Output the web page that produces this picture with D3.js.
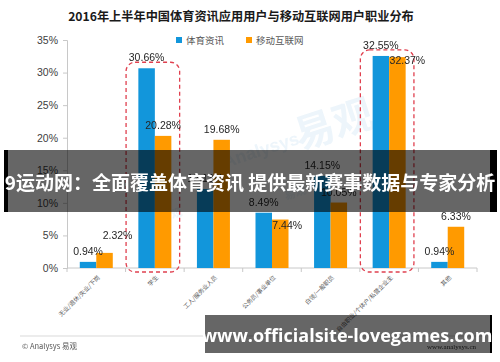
<!DOCTYPE html>
<html><head><meta charset="utf-8">
<script src="https://cdn.jsdelivr.net/npm/d3@7"></script>
<style>
html,body{margin:0;padding:0;background:#fff;}
svg{display:block;font-family:"Noto Sans CJK SC","Liberation Sans",sans-serif;}
</style></head>
<body>
<svg id="c" width="500" height="362"></svg>
<script>
const title = "2016年上半年中国体育资讯应用用户与移动互联网用户职业分布";
const categories = ["无业/退休/失业/下岗","学生","工人/服务业人员","公务员/事业单位","白领/一般职员","自由职业/个体户/私营企业主","其他"];
const seriesNames = ["体育资讯","移动互联网"];
const sportsNews = [0.94, 30.66, 12.13, 8.49, 14.15, 32.55, 0.94];
const mobileInternet = [2.32, 20.28, 19.68, 7.44, 10.05, 32.37, 6.33];
const yTicks = [0, 5, 10, 15, 20, 25, 30, 35];
const highlighted = ["学生", "自由职业/个体户/私营企业主"];
const bannerText = "9运动网：全面覆盖体育资讯 提供最新赛事数据与专家分析";
const bannerUrl = "www.officialsite-lovegames.com";

const colors = ["#1296db", "#ff9a00"];
const svg = d3.select("#c");
const L = 67, R = 477, T = 40, B = 268;

const x = d3.scaleBand().domain(categories).range([L, R]).paddingInner(0).paddingOuter(0);
const sub = d3.scaleBand().domain(seriesNames).range([0, 33]);
const y = d3.scaleLinear().domain([0, 35]).range([B, T]);

// watermark
const wm = svg.append("g").attr("fill", "#d6e8f5").attr("opacity", 0.45).attr("font-weight", "bold");
wm.append("text").attr("transform", "translate(300,150) rotate(-18)").attr("font-size", 40).text("易观");
wm.append("text").attr("transform", "translate(225,168) rotate(-18)").attr("font-size", 18).attr("font-family", "Liberation Sans").text("Analysys");
wm.append("text").attr("transform", "translate(162,222) rotate(-18)").attr("font-size", 11).text("易观");
wm.append("text").attr("transform", "translate(286,200) rotate(-18)").attr("font-size", 11).text("易观");

// title
svg.append("text").attr("x", 241).attr("y", 21).attr("text-anchor", "middle")
  .attr("font-size", 12.2).attr("font-weight", "bold").attr("fill", "#1a1a1a").text(title);

// legend
const leg = svg.append("g");
const legX = [176, 246];
seriesNames.forEach((s, i) => {
  leg.append("rect").attr("x", legX[i]).attr("y", 37).attr("width", 6).attr("height", 6).attr("fill", colors[i]);
  leg.append("text").attr("x", legX[i] + 10).attr("y", 44).attr("font-size", 9.5).attr("fill", "#595959").text(s);
});

// y axis
const yAxis = d3.axisLeft(y).tickValues(yTicks).tickSize(4).tickFormat(d => d + "%");
const gy = svg.append("g").attr("transform", `translate(${L},0)`).call(yAxis);
gy.select(".domain").attr("stroke", "#c8c8c8");
gy.selectAll(".tick line").attr("stroke", "#c8c8c8");
gy.selectAll(".tick text").attr("font-size", 10.5).attr("fill", "#404040").attr("x", -9)
  .attr("font-family", "Liberation Sans, sans-serif");

// x axis
const gx = svg.append("g").attr("transform", `translate(0,${B})`);
gx.append("line").attr("x1", L).attr("x2", R).attr("stroke", "#c8c8c8");
const bounds = d3.range(categories.length + 1).map(i => L + i * x.bandwidth());
gx.selectAll("line.tk").data(bounds).join("line").attr("class", "tk")
  .attr("x1", d => d).attr("x2", d => d).attr("y1", 0).attr("y2", 4).attr("stroke", "#c8c8c8");
gx.selectAll("text.cat").data(categories).join("text").attr("class", "cat")
  .attr("transform", d => `translate(${x(d) + x.bandwidth() / 2 + 4},${10}) rotate(-45)`)
  .attr("text-anchor", "end").attr("font-size", 6).attr("fill", "#595959").text(d => d);

// bars
const rows = categories.map((c, i) => ({ c, vals: [sportsNews[i], mobileInternet[i]] }));
const groups = svg.append("g").selectAll("g").data(rows).join("g")
  .attr("transform", d => `translate(${x(d.c) + (x.bandwidth() - 33) / 2},0)`);
groups.selectAll("rect").data(d => d.vals.map((v, k) => ({ v, k }))).join("rect")
  .attr("x", d => sub(seriesNames[d.k])).attr("width", sub.bandwidth())
  .attr("y", d => y(d.v)).attr("height", d => B - y(d.v)).attr("fill", d => colors[d.k]);

// dashed highlight boxes
highlighted.forEach(c => {
  const i = categories.indexOf(c);
  const top = Math.max(sportsNews[i], mobileInternet[i]);
  const y0 = y(top) - 6;
  svg.append("rect").attr("x", x(c) + 0.5).attr("width", x.bandwidth() - 5)
    .attr("y", y0).attr("height", B + 4 - y0)
    .attr("rx", 9).attr("fill", "none").attr("stroke", "#e0404f").attr("stroke-width", 1.3)
    .attr("stroke-dasharray", "4,3");
});

// label adjustments (layout only)
const labelShift = { "0-1": [13, -7], "3-1": [7, 16], "5-1": [10, 14] };
const lbl = svg.append("g").attr("font-size", 10.5).attr("fill", "#262626").attr("text-anchor", "middle")
  .attr("font-family", "Liberation Sans, sans-serif");
rows.forEach((r, i) => {
  r.vals.forEach((v, k) => {
    const sh = labelShift[i + "-" + k] || [0, 0];
    const cx = x(r.c) + (x.bandwidth() - 33) / 2 + sub(seriesNames[k]) + sub.bandwidth() / 2;
    lbl.append("text").attr("x", cx + sh[0]).attr("y", y(v) - 7 + sh[1]).text(v.toFixed(2) + "%");
  });
});

// footer
svg.append("line").attr("x1", 20).attr("x2", 482).attr("y1", 336).attr("y2", 336).attr("stroke", "#d9d9d9");
svg.append("text").attr("x", 22).attr("y", 349).attr("font-size", 7.5).attr("fill", "#595959").text("© Analysys 易观");
svg.append("text").attr("x", 476).attr("y", 349).attr("text-anchor", "end").attr("font-size", 7).attr("fill", "#333")
  .attr("font-family", "Liberation Serif, serif").text("www.analysys.cn");

// overlay banners
svg.append("rect").attr("x", 4).attr("y", 150).attr("width", 493).attr("height", 62).attr("fill", "rgba(0,0,0,0.6)");
svg.append("rect").attr("x", 4).attr("y", 150).attr("width", 4).attr("height", 62).attr("fill", "#000");
svg.append("rect").attr("x", 490).attr("y", 150).attr("width", 7).attr("height", 62).attr("fill", "#000");
svg.append("text").attr("x", 250).attr("y", 190).attr("text-anchor", "middle").attr("font-size", 19)
  .attr("font-weight", "bold").attr("fill", "#fff").text(bannerText);

svg.append("rect").attr("x", 205).attr("y", 315).attr("width", 285).attr("height", 38).attr("fill", "rgba(0,0,0,0.6)");
svg.append("rect").attr("x", 490).attr("y", 315).attr("width", 2).attr("height", 38).attr("fill", "#000");
svg.append("text").attr("x", 347).attr("y", 342).attr("text-anchor", "middle").attr("font-size", 18)
  .attr("font-weight", "bold").attr("fill", "#fff").attr("font-family", "Open Sans, DejaVu Sans, sans-serif").text(bannerUrl);
</script>
</body></html>
